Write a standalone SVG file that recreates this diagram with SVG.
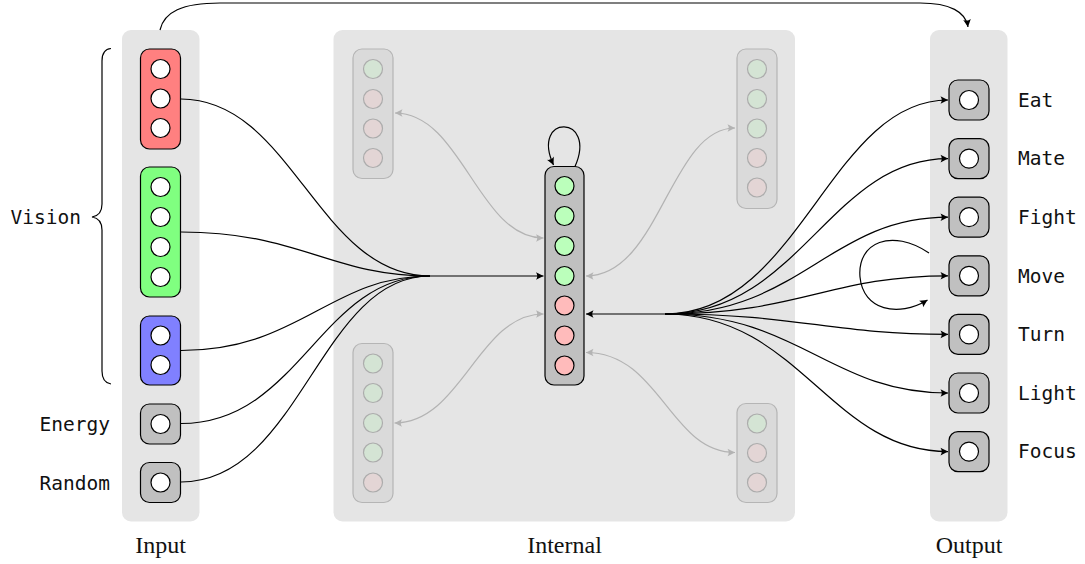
<svg xmlns="http://www.w3.org/2000/svg" width="1085" height="564" viewBox="0 0 1085 564">
  <style>
    .panel { fill: #e5e5e5; }
    .box { fill: #c0c0c0; stroke: #000; stroke-width: 1.2; }
    .io { fill: #fff; stroke: #000; stroke-width: 1.2; }
    .g { fill: #bbffbb; stroke: #000; stroke-width: 1.2; }
    .r { fill: #ffbbbb; stroke: #000; stroke-width: 1.2; }
    .gbox { fill: #dadada; stroke: #b5b5b5; stroke-width: 1.2; }
    .gg { fill: #d4e4d4; stroke: #acacac; stroke-width: 1.2; }
    .gr { fill: #e3d5d5; stroke: #acacac; stroke-width: 1.2; }
    .lbl { font-family: "DejaVu Sans Mono", "Liberation Mono", monospace; font-size: 19.5px; fill: #111; }
    .title { font-family: "Liberation Serif", serif; font-size: 24px; fill: #111; text-anchor: middle; }
    .wire { fill: none; stroke: #000; stroke-width: 1.2; }
    .ghost { fill: none; stroke: #b3b3b3; stroke-width: 1.2; }
  </style>
  <defs>
    <marker id="ah" viewBox="-8 -5 9 10" refX="0" refY="0" markerWidth="9" markerHeight="10" markerUnits="userSpaceOnUse" orient="auto-start-reverse">
      <path d="M0,0 L-7.5,-3.8 Q-5,0 -7.5,3.8 Z" fill="#000"/>
    </marker>
    <marker id="ahg" viewBox="-8 -5 9 10" refX="0" refY="0" markerWidth="9" markerHeight="10" markerUnits="userSpaceOnUse" orient="auto-start-reverse">
      <path d="M0,0 L-7.5,-3.8 Q-5,0 -7.5,3.8 Z" fill="#b3b3b3"/>
    </marker>
  </defs>

  <!-- layer panels -->
  <g id="panels">
    <rect class="panel" x="122" y="30" width="77.5" height="491.5" rx="9"/>
    <rect class="panel" x="333.5" y="30" width="461.5" height="491.5" rx="9"/>
    <rect class="panel" x="930" y="30" width="77.5" height="491.5" rx="9"/>
    <text class="title" x="160.5" y="553">Input</text>
    <text class="title" x="564.5" y="553">Internal</text>
    <text class="title" x="969" y="553">Output</text>
  </g>

  <!-- connectors -->
  <g id="connectors">
    <path class="wire" d="M160 30 C164 12 182 3 220 3 L920 3 C950 3 966 12 968 27" marker-end="url(#ah)"/>
    <!-- inputs into the hub -->
    <path class="wire" d="M181 99 C292 99 318 276 430 276"/>
    <path class="wire" d="M181 232 C300 232 330 276 430 276"/>
    <path class="wire" d="M181 350.5 C300 350.5 330 276 430 276"/>
    <path class="wire" d="M181 423.5 C300 423.5 320 276 430 276"/>
    <path class="wire" d="M181 482 C300 482 320 276 430 276"/>
    <path class="wire" d="M430 276 L543.5 276" marker-end="url(#ah)"/>
    <!-- recurrent loop on internal layer -->
    <path class="wire" d="M575 166.5 C598 114 530 114 553.5 165" marker-end="url(#ah)"/>
    <!-- hub into outputs -->
    <path class="wire" d="M586 314 L665 314" marker-start="url(#ah)"/>
    <path class="wire" d="M665 314 C800 314 830 100 948 100" marker-end="url(#ah)"/>
    <path class="wire" d="M665 314 C800 314 830 158.6 948 158.6" marker-end="url(#ah)"/>
    <path class="wire" d="M665 314 C800 314 830 217.2 948 217.2" marker-end="url(#ah)"/>
    <path class="wire" d="M665 314 C800 314 830 275.8 948 275.8" marker-end="url(#ah)"/>
    <path class="wire" d="M665 314 C800 314 830 334.4 948 334.4" marker-end="url(#ah)"/>
    <path class="wire" d="M665 314 C800 314 830 393 948 393" marker-end="url(#ah)"/>
    <path class="wire" d="M665 314 C800 314 830 451.6 948 451.6" marker-end="url(#ah)"/>
    <!-- loop on output layer -->
    <path class="wire" d="M929 253 C892 228 857 242 860 277 C863 310 898 318 927.5 300" marker-end="url(#ah)"/>
    <!-- faded internal links -->
    <path class="ghost" d="M395 113 C462 113 478 238 543.5 238" marker-start="url(#ahg)" marker-end="url(#ahg)"/>
    <path class="ghost" d="M586 276 C660 276 670 128 735 128" marker-start="url(#ahg)" marker-end="url(#ahg)"/>
    <path class="ghost" d="M394.5 423 C462 423 478 314 543.5 314" marker-start="url(#ahg)" marker-end="url(#ahg)"/>
    <path class="ghost" d="M586 352.5 C660 352.5 670 452.5 735 452.5" marker-start="url(#ahg)" marker-end="url(#ahg)"/>
  </g>

  <!-- input nodes -->
  <g id="vision-red">
    <rect x="140.5" y="49" width="40" height="100" rx="9" fill="#ff8080" stroke="#000" stroke-width="1.2"/>
    <circle class="io" cx="160.5" cy="69" r="9.5"/>
    <circle class="io" cx="160.5" cy="98.5" r="9.5"/>
    <circle class="io" cx="160.5" cy="128" r="9.5"/>
  </g>
  <g id="vision-green">
    <rect x="140.5" y="167" width="40" height="130" rx="9" fill="#80ff80" stroke="#000" stroke-width="1.2"/>
    <circle class="io" cx="160.5" cy="187" r="9.5"/>
    <circle class="io" cx="160.5" cy="217" r="9.5"/>
    <circle class="io" cx="160.5" cy="247" r="9.5"/>
    <circle class="io" cx="160.5" cy="277" r="9.5"/>
  </g>
  <g id="vision-blue">
    <rect x="140.5" y="316" width="40" height="69" rx="9" fill="#8080ff" stroke="#000" stroke-width="1.2"/>
    <circle class="io" cx="160.5" cy="335.5" r="9.5"/>
    <circle class="io" cx="160.5" cy="365" r="9.5"/>
  </g>
  <g id="vision-label">
    <path d="M111 48.5 C104.5 49 102 53 102 61 L102 204 C102 212 98.5 216 92 217 C98.5 218 102 222 102 230 L102 371 C102 379 104.5 383 111 384" fill="none" stroke="#000" stroke-width="1.2"/>
    <text class="lbl" x="81" y="224" text-anchor="end">Vision</text>
  </g>
  <g id="energy">
    <rect class="box" x="140.5" y="404" width="40" height="40" rx="9"/>
    <circle class="io" cx="160.5" cy="424" r="9.5"/>
    <text class="lbl" x="110" y="430.5" text-anchor="end">Energy</text>
  </g>
  <g id="random">
    <rect class="box" x="140.5" y="462.5" width="40" height="40" rx="9"/>
    <circle class="io" cx="160.5" cy="482.5" r="9.5"/>
    <text class="lbl" x="110" y="490" text-anchor="end">Random</text>
  </g>

  <!-- internal layer -->
  <g id="internal">
    <rect class="box" x="545" y="166.5" width="39" height="218.5" rx="9"/>
    <circle class="g" cx="564.5" cy="186" r="9.5"/>
    <circle class="g" cx="564.5" cy="216" r="9.5"/>
    <circle class="g" cx="564.5" cy="246" r="9.5"/>
    <circle class="g" cx="564.5" cy="276" r="9.5"/>
    <circle class="r" cx="564.5" cy="305.5" r="9.5"/>
    <circle class="r" cx="564.5" cy="335.5" r="9.5"/>
    <circle class="r" cx="564.5" cy="365.5" r="9.5"/>
  </g>
  <g id="faded-top-left">
    <rect class="gbox" x="353" y="49" width="40" height="129.5" rx="9"/>
    <circle class="gg" cx="373" cy="69" r="9.5"/>
    <circle class="gr" cx="373" cy="99" r="9.5"/>
    <circle class="gr" cx="373" cy="128.5" r="9.5"/>
    <circle class="gr" cx="373" cy="158" r="9.5"/>
  </g>
  <g id="faded-top-right">
    <rect class="gbox" x="737" y="49" width="40" height="159.5" rx="9"/>
    <circle class="gg" cx="757" cy="69" r="9.5"/>
    <circle class="gg" cx="757" cy="99" r="9.5"/>
    <circle class="gg" cx="757" cy="128.5" r="9.5"/>
    <circle class="gr" cx="757" cy="158" r="9.5"/>
    <circle class="gr" cx="757" cy="187.5" r="9.5"/>
  </g>
  <g id="faded-bottom-left">
    <rect class="gbox" x="353" y="343.5" width="40" height="159" rx="9"/>
    <circle class="gg" cx="373" cy="363.5" r="9.5"/>
    <circle class="gg" cx="373" cy="393" r="9.5"/>
    <circle class="gg" cx="373" cy="423" r="9.5"/>
    <circle class="gg" cx="373" cy="452.5" r="9.5"/>
    <circle class="gr" cx="373" cy="482.5" r="9.5"/>
  </g>
  <g id="faded-bottom-right">
    <rect class="gbox" x="737" y="403.5" width="40" height="99" rx="9"/>
    <circle class="gg" cx="757" cy="423.5" r="9.5"/>
    <circle class="gr" cx="757" cy="453" r="9.5"/>
    <circle class="gr" cx="757" cy="482.5" r="9.5"/>
  </g>

  <!-- output nodes -->
  <g id="eat">
    <rect class="box" x="949" y="80" width="40" height="40" rx="9"/>
    <circle class="io" cx="969" cy="100" r="9.5"/>
    <text class="lbl" x="1018" y="107">Eat</text>
  </g>
  <g id="mate">
    <rect class="box" x="949" y="138.6" width="40" height="40" rx="9"/>
    <circle class="io" cx="969" cy="158.6" r="9.5"/>
    <text class="lbl" x="1018" y="165.3">Mate</text>
  </g>
  <g id="fight">
    <rect class="box" x="949" y="197.2" width="40" height="40" rx="9"/>
    <circle class="io" cx="969" cy="217.2" r="9.5"/>
    <text class="lbl" x="1018" y="223.9">Fight</text>
  </g>
  <g id="move">
    <rect class="box" x="949" y="255.8" width="40" height="40" rx="9"/>
    <circle class="io" cx="969" cy="275.8" r="9.5"/>
    <text class="lbl" x="1018" y="282.5">Move</text>
  </g>
  <g id="turn">
    <rect class="box" x="949" y="314.4" width="40" height="40" rx="9"/>
    <circle class="io" cx="969" cy="334.4" r="9.5"/>
    <text class="lbl" x="1018" y="341.1">Turn</text>
  </g>
  <g id="light">
    <rect class="box" x="949" y="373" width="40" height="40" rx="9"/>
    <circle class="io" cx="969" cy="393" r="9.5"/>
    <text class="lbl" x="1018" y="399.7">Light</text>
  </g>
  <g id="focus">
    <rect class="box" x="949" y="431.6" width="40" height="40" rx="9"/>
    <circle class="io" cx="969" cy="451.6" r="9.5"/>
    <text class="lbl" x="1018" y="458.3">Focus</text>
  </g>
</svg>
